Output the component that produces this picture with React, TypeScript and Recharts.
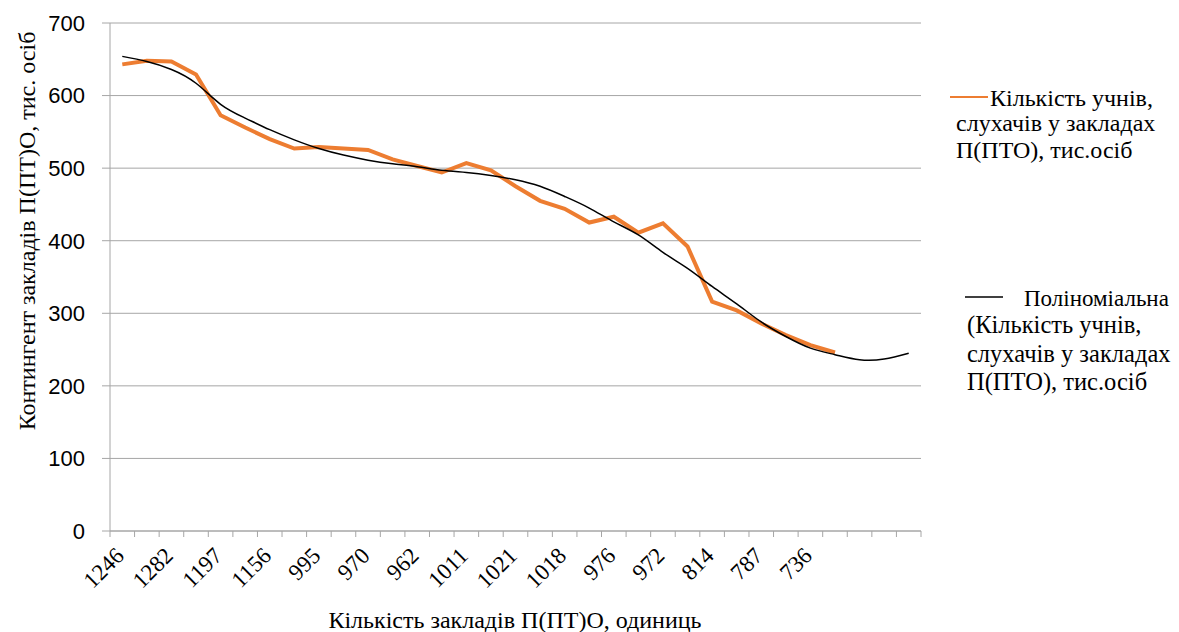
// Contingent of vocational schools vs number of schools, with polynomial trend
import { LineChart, Line, XAxis, YAxis, CartesianGrid } from 'recharts';

const SERIF = '"Liberation Serif", "Times New Roman", Times, serif';
const SANS = '"Liberation Sans", Arial, sans-serif';
const GRID = '#a6a6a6';
const ORANGE = '#ED7D31';

// number of schools per year (odd ones are hidden on the axis, estimated)
const schoolCounts = [
  '1246', '1251', '1282', '1222', '1197', '1173', '1156', '1021', '995', '977',
  '970', '967', '962', '1015', '1011', '1018', '1021', '1020', '1018', '989',
  '976', '974', '972', '944', '814', '800', '787', '756', '736', '722',
  '', '', '',
];

// students, thousand persons
const students = [
  643, 648, 647, 629, 573, 556, 540, 527, 529, 527,
  525, 512, 503, 494, 507, 497, 475, 455, 444, 425,
  433, 411, 424, 392, 316, 304, 286, 270, 256, 246,
];

// polynomial trend line as drawn (extends 3 periods further)
const trend = [
  654, 647, 636, 617, 588, 569, 553, 539, 527, 518,
  511, 506, 502, 497, 494, 490, 484, 475, 461, 445,
  426, 408, 384, 362, 337, 313, 288, 268, 252, 243,
  236, 237, 245,
];

const yTicks = [0, 100, 200, 300, 400, 500, 600, 700];

const data = schoolCounts.map((label, idx) => ({
  idx,
  label,
  students: idx < students.length ? students[idx] : undefined,
  trend: trend[idx],
}));

const xTicks: number[] = [];
for (let v = -0.5; v <= schoolCounts.length - 0.5; v += 0.5) xTicks.push(v);

const serifStyle = { fontFamily: SERIF };

function XTick(props: any) {
  const { x, y, payload } = props;
  const v = payload.value as number;
  if (!Number.isInteger(v)) {
    return <line x1={x} x2={x} y1={y - 6} y2={y} stroke={GRID} />;
  }
  const label = v % 2 === 0 ? schoolCounts[v] : '';
  if (!label) return <g />;
  const ax = x + 3;
  const ay = y + 20;
  return (
    <text
      x={ax}
      y={ay}
      transform={`rotate(-45 ${ax} ${ay})`}
      textAnchor="end"
      style={serifStyle}
      fontSize={23}
      fill="#000"
    >
      {label}
    </text>
  );
}

export default function App() {
  return (
    <div style={{ position: 'relative', width: 1171, height: 624 }}>
      <LineChart
        width={1163}
        height={624}
        data={data}
        margin={{ top: 15, right: 250, left: 42, bottom: 41 }}
      >
        <CartesianGrid vertical={false} stroke={GRID} />
        <XAxis
          dataKey="idx"
          type="number"
          domain={[-0.5, schoolCounts.length - 0.5]}
          ticks={xTicks}
          interval={0}
          tickLine={false}
          tickSize={6}
          tickMargin={0}
          stroke={GRID}
          height={60}
          tick={<XTick />}
        />
        <YAxis
          domain={[0, 700]}
          ticks={yTicks}
          width={60}
          tickSize={8}
          tickMargin={17}
          stroke={GRID}
          tick={{ fontFamily: SANS, fontSize: 22, fill: '#000' }}
        />
        <Line
          dataKey="students"
          stroke={ORANGE}
          strokeWidth={4}
          dot={false}
          type="linear"
          isAnimationActive={false}
        />
        <Line
          dataKey="trend"
          stroke="#000"
          strokeWidth={1.5}
          dot={false}
          type="natural"
          isAnimationActive={false}
        />
      </LineChart>

      <svg
        width={1171}
        height={624}
        style={{ position: 'absolute', left: 0, top: 0, pointerEvents: 'none', fontFamily: SERIF }}
      >
        <text
          x={27}
          y={223}
          transform="rotate(-90 27 223)"
          textAnchor="middle"
          style={serifStyle}
          fontSize={24}
        >
          Контингент закладів П(ПТ)О, тис. осіб
        </text>
        <text x={507} y={620} textAnchor="middle" style={serifStyle} fontSize={24}>
          Кількість закладів П(ПТ)О, одиниць
        </text>

        <line x1={942} x2={980} y1={89} y2={89} stroke={ORANGE} strokeWidth={2} />
        <text x={982} y={98} fontSize={24} style={serifStyle}>Кількість учнів,</text>
        <text x={948} y={123} fontSize={24} style={serifStyle}>слухачів у закладах</text>
        <text x={948} y={150} fontSize={24} style={serifStyle}>П(ПТО), тис.осіб</text>

        <line x1={957} x2={995} y1={289} y2={289} stroke="#000" strokeWidth={1.5} />
        <text x={1016} y={298} fontSize={23} style={serifStyle}>Поліноміальна</text>
        <text x={959} y={325} fontSize={24.5} style={serifStyle}>(Кількість учнів,</text>
        <text x={959} y={354} fontSize={24.5} style={serifStyle}>слухачів у закладах</text>
        <text x={959} y={382} fontSize={24.5} style={serifStyle}>П(ПТО), тис.осіб</text>
      </svg>
    </div>
  );
}
